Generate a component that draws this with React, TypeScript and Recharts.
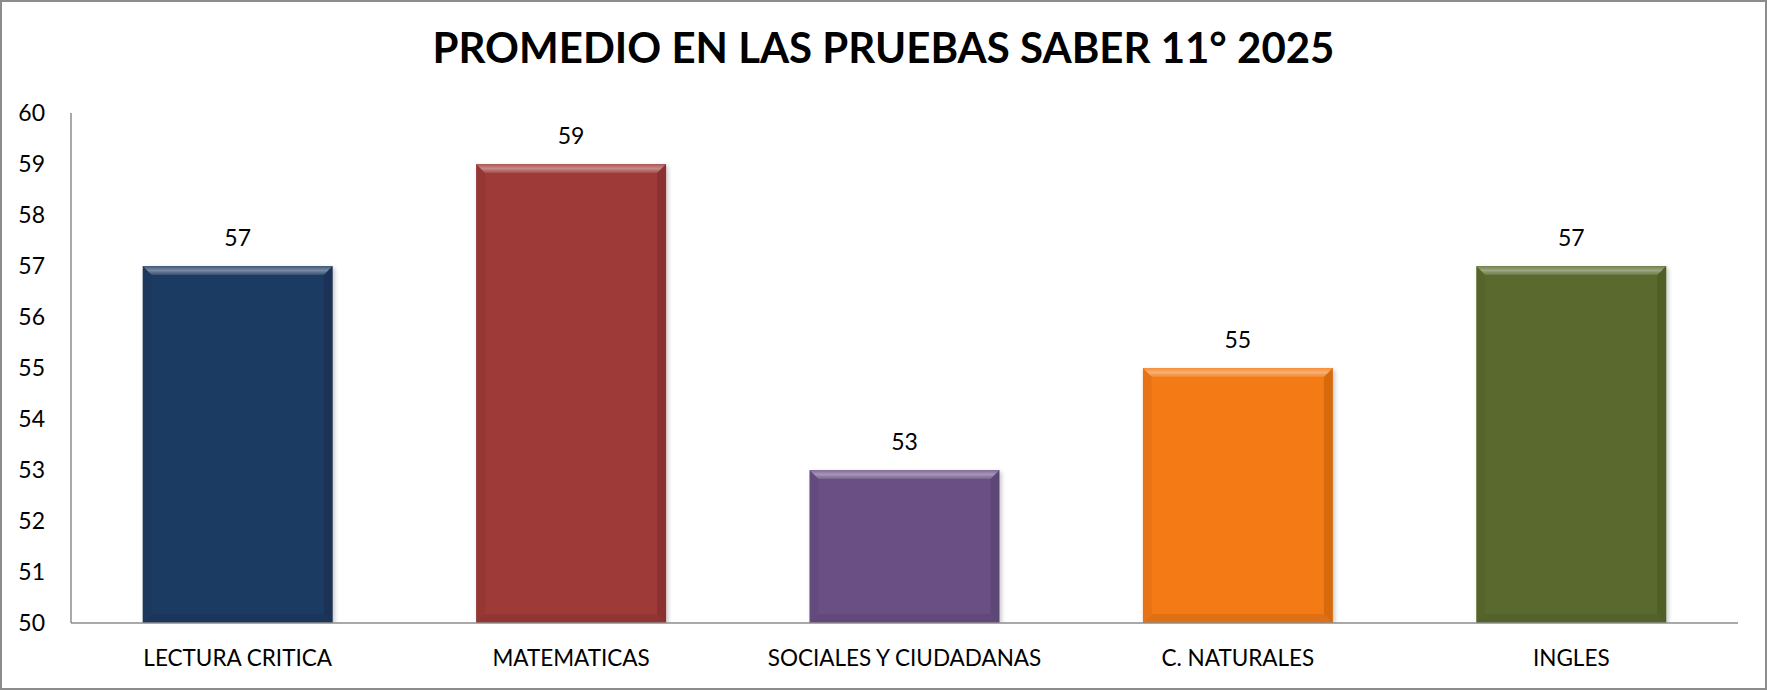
import { BarChart, Bar, XAxis, YAxis, Cell, LabelList } from "recharts";

const categories = [
  "LECTURA CRITICA",
  "MATEMATICAS",
  "SOCIALES Y CIUDADANAS",
  "C. NATURALES",
  "INGLES",
];
const promedios = [57, 59, 53, 55, 57];
const barColors = ["#1F3B62", "#9E3A38", "#6A5084", "#F47A14", "#5A6B2E"];
const yTicks = [50, 51, 52, 53, 54, 55, 56, 57, 58, 59, 60];

const data = categories.map((name, i) => ({ name, promedio: promedios[i] }));

const FONT = "Lato, 'Open Sans', sans-serif";

// bar with a bevelled edge, like the office 3d style
function BevelBar(props: any) {
  const { x, y, width, height, fill } = props;
  if (!height || height <= 0) return null;
  const b = 9;
  const x2 = x + width;
  const y2 = y + height;
  return (
    <g filter="url(#barShadow)">
      <rect x={x} y={y} width={width} height={height} fill={fill} />
      <polygon
        points={`${x},${y} ${x2},${y} ${x2 - b},${y + b} ${x + b},${y + b}`}
        fill="url(#topBevel)"
      />
      <polygon
        points={`${x},${y} ${x + b},${y + b} ${x + b},${y2 - b} ${x},${y2}`}
        fill="#000"
        opacity={0.05}
      />
      <polygon
        points={`${x2},${y} ${x2 - b},${y + b} ${x2 - b},${y2 - b} ${x2},${y2}`}
        fill="#000"
        opacity={0.12}
      />
      <polygon
        points={`${x},${y2} ${x + b},${y2 - b} ${x2 - b},${y2 - b} ${x2},${y2}`}
        fill="#000"
        opacity={0.08}
      />
    </g>
  );
}

export default function App() {
  return (
    <div
      style={{
        position: "relative",
        width: 1767,
        height: 690,
        background: "#fff",
        boxSizing: "border-box",
        border: "2px solid #8c8c8c",
        fontFamily: FONT,
      }}
    >
      <style>{"body{margin:0}"}</style>
      <div
        style={{
          position: "absolute",
          left: 0,
          right: 0,
          top: 17,
          textAlign: "center",
          fontSize: 42,
          fontWeight: 700,
          lineHeight: "56px",
          color: "#000",
        }}
      >
        PROMEDIO EN LAS PRUEBAS SABER 11° 2025
      </div>
      <div style={{ position: "absolute", left: -2, top: -2 }}>
        <BarChart
          width={1767}
          height={690}
          data={data}
          margin={{ top: 113, right: 29, bottom: 0, left: 0 }}
          barCategoryGap="21.5%"
        >
          <defs>
            <linearGradient id="topBevel" x1="0" y1="0" x2="0" y2="1">
              <stop offset="0%" stopColor="#fff" stopOpacity={0.15} />
              <stop offset="50%" stopColor="#fff" stopOpacity={0.4} />
              <stop offset="100%" stopColor="#fff" stopOpacity={0.1} />
            </linearGradient>
            <filter id="barShadow" x="-10%" y="-10%" width="125%" height="125%">
              <feDropShadow dx="2" dy="2" stdDeviation="2" floodColor="#000" floodOpacity="0.22" />
            </filter>
          </defs>
          <XAxis
            dataKey="name"
            height={67}
            tickLine={false}
            axisLine={{ stroke: "#8c8c8c", strokeWidth: 1.5 }}
            tickMargin={21}
            tick={{ fill: "#000", fontSize: 22.5, fontFamily: FONT }}
            interval={0}
          />
          <YAxis
            width={71}
            domain={[50, 60]}
            ticks={yTicks}
            allowDataOverflow
            tickLine={false}
            tickSize={0}
            tickMargin={26}
            axisLine={{ stroke: "#8c8c8c", strokeWidth: 1.5 }}
            tick={{ fill: "#000", fontSize: 23, fontFamily: FONT }}
          />
          <Bar dataKey="promedio" shape={<BevelBar />} isAnimationActive={false}>
            {data.map((d, i) => (
              <Cell key={d.name} fill={barColors[i]} />
            ))}
            <LabelList
              dataKey="promedio"
              position="top"
              offset={20}
              fill="#000"
              fontSize={23}
              fontFamily={FONT}
            />
          </Bar>
        </BarChart>
      </div>
    </div>
  );
}
